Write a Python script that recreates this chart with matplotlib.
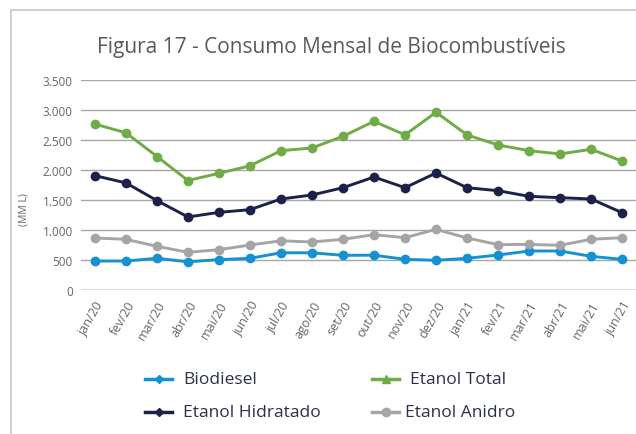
import matplotlib
matplotlib.use("Agg")
import matplotlib.pyplot as plt
from matplotlib.lines import Line2D
from matplotlib.patches import Rectangle

months = ["jan/20", "fev/20", "mar/20", "abr/20", "mai/20", "jun/20", "jul/20", "ago/20",
          "set/20", "out/20", "nov/20", "dez/20", "jan/21", "fev/21", "mar/21", "abr/21",
          "mai/21", "jun/21"]
biodiesel = [483, 483, 528, 470, 506, 528, 620, 620, 578, 580, 511, 495, 528, 583, 650, 650, 561, 511]
etanol_total = [2765, 2620, 2225, 1825, 1945, 2070, 2322, 2367, 2562, 2811, 2585, 2963, 2585, 2417, 2322, 2267, 2345, 2150]
etanol_hidratado = [1906, 1785, 1490, 1217, 1294, 1339, 1517, 1583, 1705, 1883, 1705, 1950, 1705, 1655, 1561, 1539, 1517, 1289]
etanol_anidro = [867, 845, 728, 628, 672, 750, 820, 800, 845, 922, 872, 1011, 867, 756, 760, 745, 845, 872]

series = [
    ("Biodiesel", biodiesel, "#1391d0", "D"),
    ("Etanol Total", etanol_total, "#6fac46", "^"),
    ("Etanol Hidratado", etanol_hidratado, "#1c2149", "D"),
    ("Etanol Anidro", etanol_anidro, "#a5a5a5", "o"),
]

W, H = 636, 435
fig = plt.figure(figsize=(W / 100, H / 100), dpi=100)
plt.rcParams['font.family'] = ['Open Sans', 'DejaVu Sans']

# frame
fig.patches.append(Rectangle((11 / W, -0.1), 1.2, (H - 11) / H + 0.1, transform=fig.transFigure,
                             fill=False, edgecolor="#d0d0d0", linewidth=1.5))

left, right = 81 / W, 636 / W
bottom, top = (H - 291) / H, (H - 81) / H
ax = fig.add_axes([left, bottom, right - left, top - bottom])
x = list(range(len(months)))
for name, vals, color, mk in series:
    ax.plot(x, vals, color=color, linewidth=2.1, marker="o", markersize=6, zorder=3)

ax.set_xlim(-0.45, 17.45)
ax.set_ylim(0, 3500)
yt = [0, 500, 1000, 1500, 2000, 2500, 3000, 3500]
ax.set_yticks(yt)
ax.set_yticklabels([f"{v:,}".replace(",", ".") for v in yt], fontsize=8.5, color="#666666")
ax.set_xticks(x)
ax.set_xticklabels(months, rotation=60, ha="right", rotation_mode="anchor", fontsize=9, color="#666666")
ax.tick_params(length=0, pad=6)
ax.tick_params(axis="x", pad=6)
for v in yt[1:]:
    ax.axhline(v, color="#a6a6a6", linewidth=1, zorder=1)
ax.axhline(0, color="#d9d9d9", linewidth=1.5, zorder=1)
for s in ax.spines.values():
    s.set_visible(False)
ax.set_facecolor("none")

fig.text(24 / W, 1 - 210 / H, "(MM L)", rotation=90, ha="center", va="center", fontsize=7.5, color="#666666")
fig.text(331 / W, 1 - 47 / H, "Figura 17 - Consumo Mensal de Biocombustíveis", ha="center", va="center",
         fontsize=15, color="#595959")

# legend
leg_pos = [(145, 380), (372, 380), (145, 413), (372, 413)]
for (name, vals, color, mk), (lx, ly) in zip(series, leg_pos):
    fig.add_artist(Line2D([lx / W, (lx + 27) / W], [1 - ly / H, 1 - ly / H], transform=fig.transFigure,
                          color=color, linewidth=2.5))
    fig.add_artist(Line2D([(lx + 13.5) / W], [1 - ly / H], transform=fig.transFigure,
                          color=color, marker=mk, markersize=6 if mk != "D" else 4.5, linestyle="none"))
    tx = lx + 38 if name != "Etanol Anidro" else lx + 33
    fig.text(tx / W, 1 - ly / H, name, ha="left", va="center", fontsize=12.5, color="#2b2f4e")

fig.savefig("out.png", dpi=100)
